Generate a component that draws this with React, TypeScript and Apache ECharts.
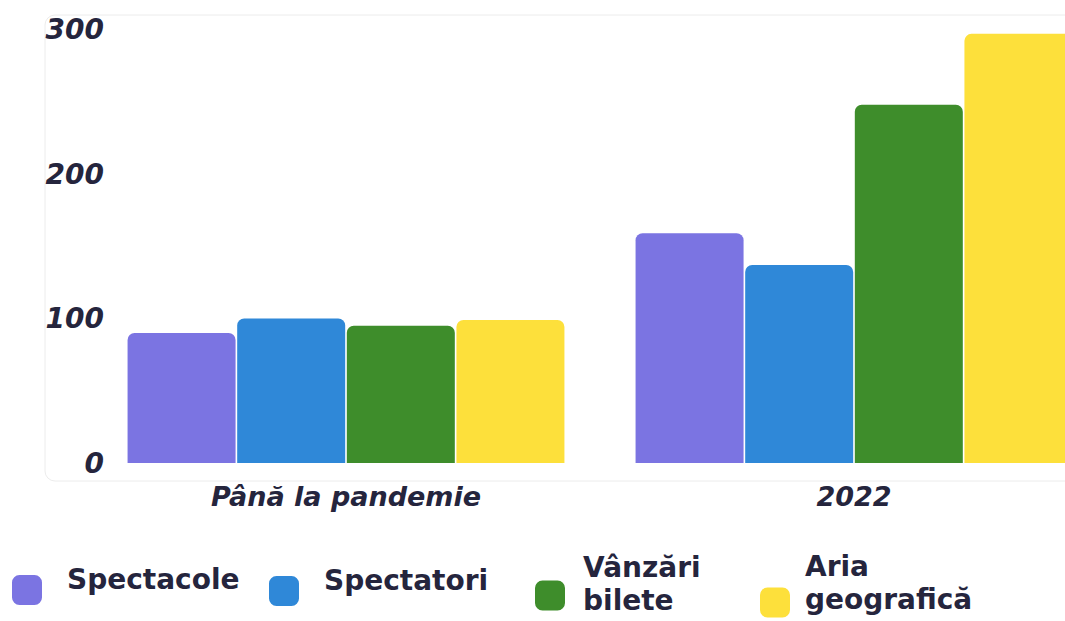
import React, { useEffect, useRef } from "react";
import * as echarts from "echarts";

const categories = ["Până la pandemie", "2022"];
const seriesNames = ["Spectacole", "Spectatori", "Vânzări bilete", "Aria geografică"];
const spectacole = [90, 159];
const spectatori = [100, 137];
const vanzari = [95, 248];
const aria = [99, 297];
const seriesValues = [spectacole, spectatori, vanzari, aria];
const colors = ["#7b74e2", "#2f88d8", "#3e8d2b", "#fde03b"];
const yTicks = [0, 100, 200, 300];

const textColor = "#25253d";
const fontFamily = "'DejaVu Sans', sans-serif";

const legendPos = [
  { left: 12, top: 565, padLeft: 20, spacer: 22 },
  { left: 269, top: 566, padLeft: 20, spacer: 22 },
  { left: 535, top: 553, padLeft: 13, spacer: 24 },
  { left: 760, top: 552, padLeft: 10, spacer: 40 },
];

export default function App() {
  const ref = useRef<HTMLDivElement>(null);
  useEffect(() => {
    const chart = echarts.init(ref.current!, null, { renderer: "svg" });
    chart.setOption({
      animation: false,
      backgroundColor: "#ffffff",
      grid: { left: 92, right: 32, top: 29.5, bottom: 158, containLabel: false },
      graphic: [
        {
          type: "rect",
          z: -10,
          shape: { x: 45, y: 15, width: 1200, height: 466, r: 10 },
          style: { fill: "none", stroke: "#ececec", lineWidth: 1 },
        },
      ],
      xAxis: {
        type: "category",
        data: categories,
        axisLine: { show: false },
        axisTick: { show: false },
        axisLabel: {
          margin: 20,
          color: textColor,
          fontFamily,
          fontSize: 27,
          fontWeight: "bold",
          fontStyle: "italic",
        },
      },
      yAxis: {
        type: "value",
        min: yTicks[0],
        max: yTicks[yTicks.length - 1],
        interval: 100,
        splitLine: { show: false },
        axisLine: { show: false },
        axisTick: { show: false },
        axisLabel: {
          margin: -12,
          color: textColor,
          fontFamily,
          fontSize: 28,
          fontWeight: "bold",
          fontStyle: "italic",
        },
      },
      legend: seriesNames.map((n, i) => ({
        data: [n],
        left: legendPos[i].left,
        top: legendPos[i].top,
        padding: 0,
        itemWidth: 30,
        itemHeight: 30,
        icon: "roundRect",
        formatter: (name: string) =>
          name
            .split(" ")
            .map((w) => `{t|${w}}`)
            .join("\n") + "\n{s| }",
        selectedMode: false,
        textStyle: {
          color: textColor,
          fontFamily,
          fontSize: 28,
          fontWeight: "bold",
          padding: [0, 0, 0, legendPos[i].padLeft],
          rich: {
            t: {
              color: textColor,
              fontFamily,
              fontSize: 28,
              fontWeight: "bold",
              lineHeight: 33,
            },
            s: { fontSize: 2, lineHeight: legendPos[i].spacer },
          },
        },
      })),
      series: seriesNames.map((n, i) => ({
        name: n,
        type: "bar",
        data: seriesValues[i],
        barWidth: 108,
        barGap: "1.5%",
        itemStyle: { color: colors[i], borderRadius: [7, 7, 0, 0] },
      })),
    });
    return () => chart.dispose();
  }, []);
  return (
    <div style={{ position: "fixed", left: 0, top: 0, width: 1065, height: 621, overflow: "hidden", background: "#fff" }}>
      <div ref={ref} style={{ width: 1140, height: 621 }} />
    </div>
  );
}
